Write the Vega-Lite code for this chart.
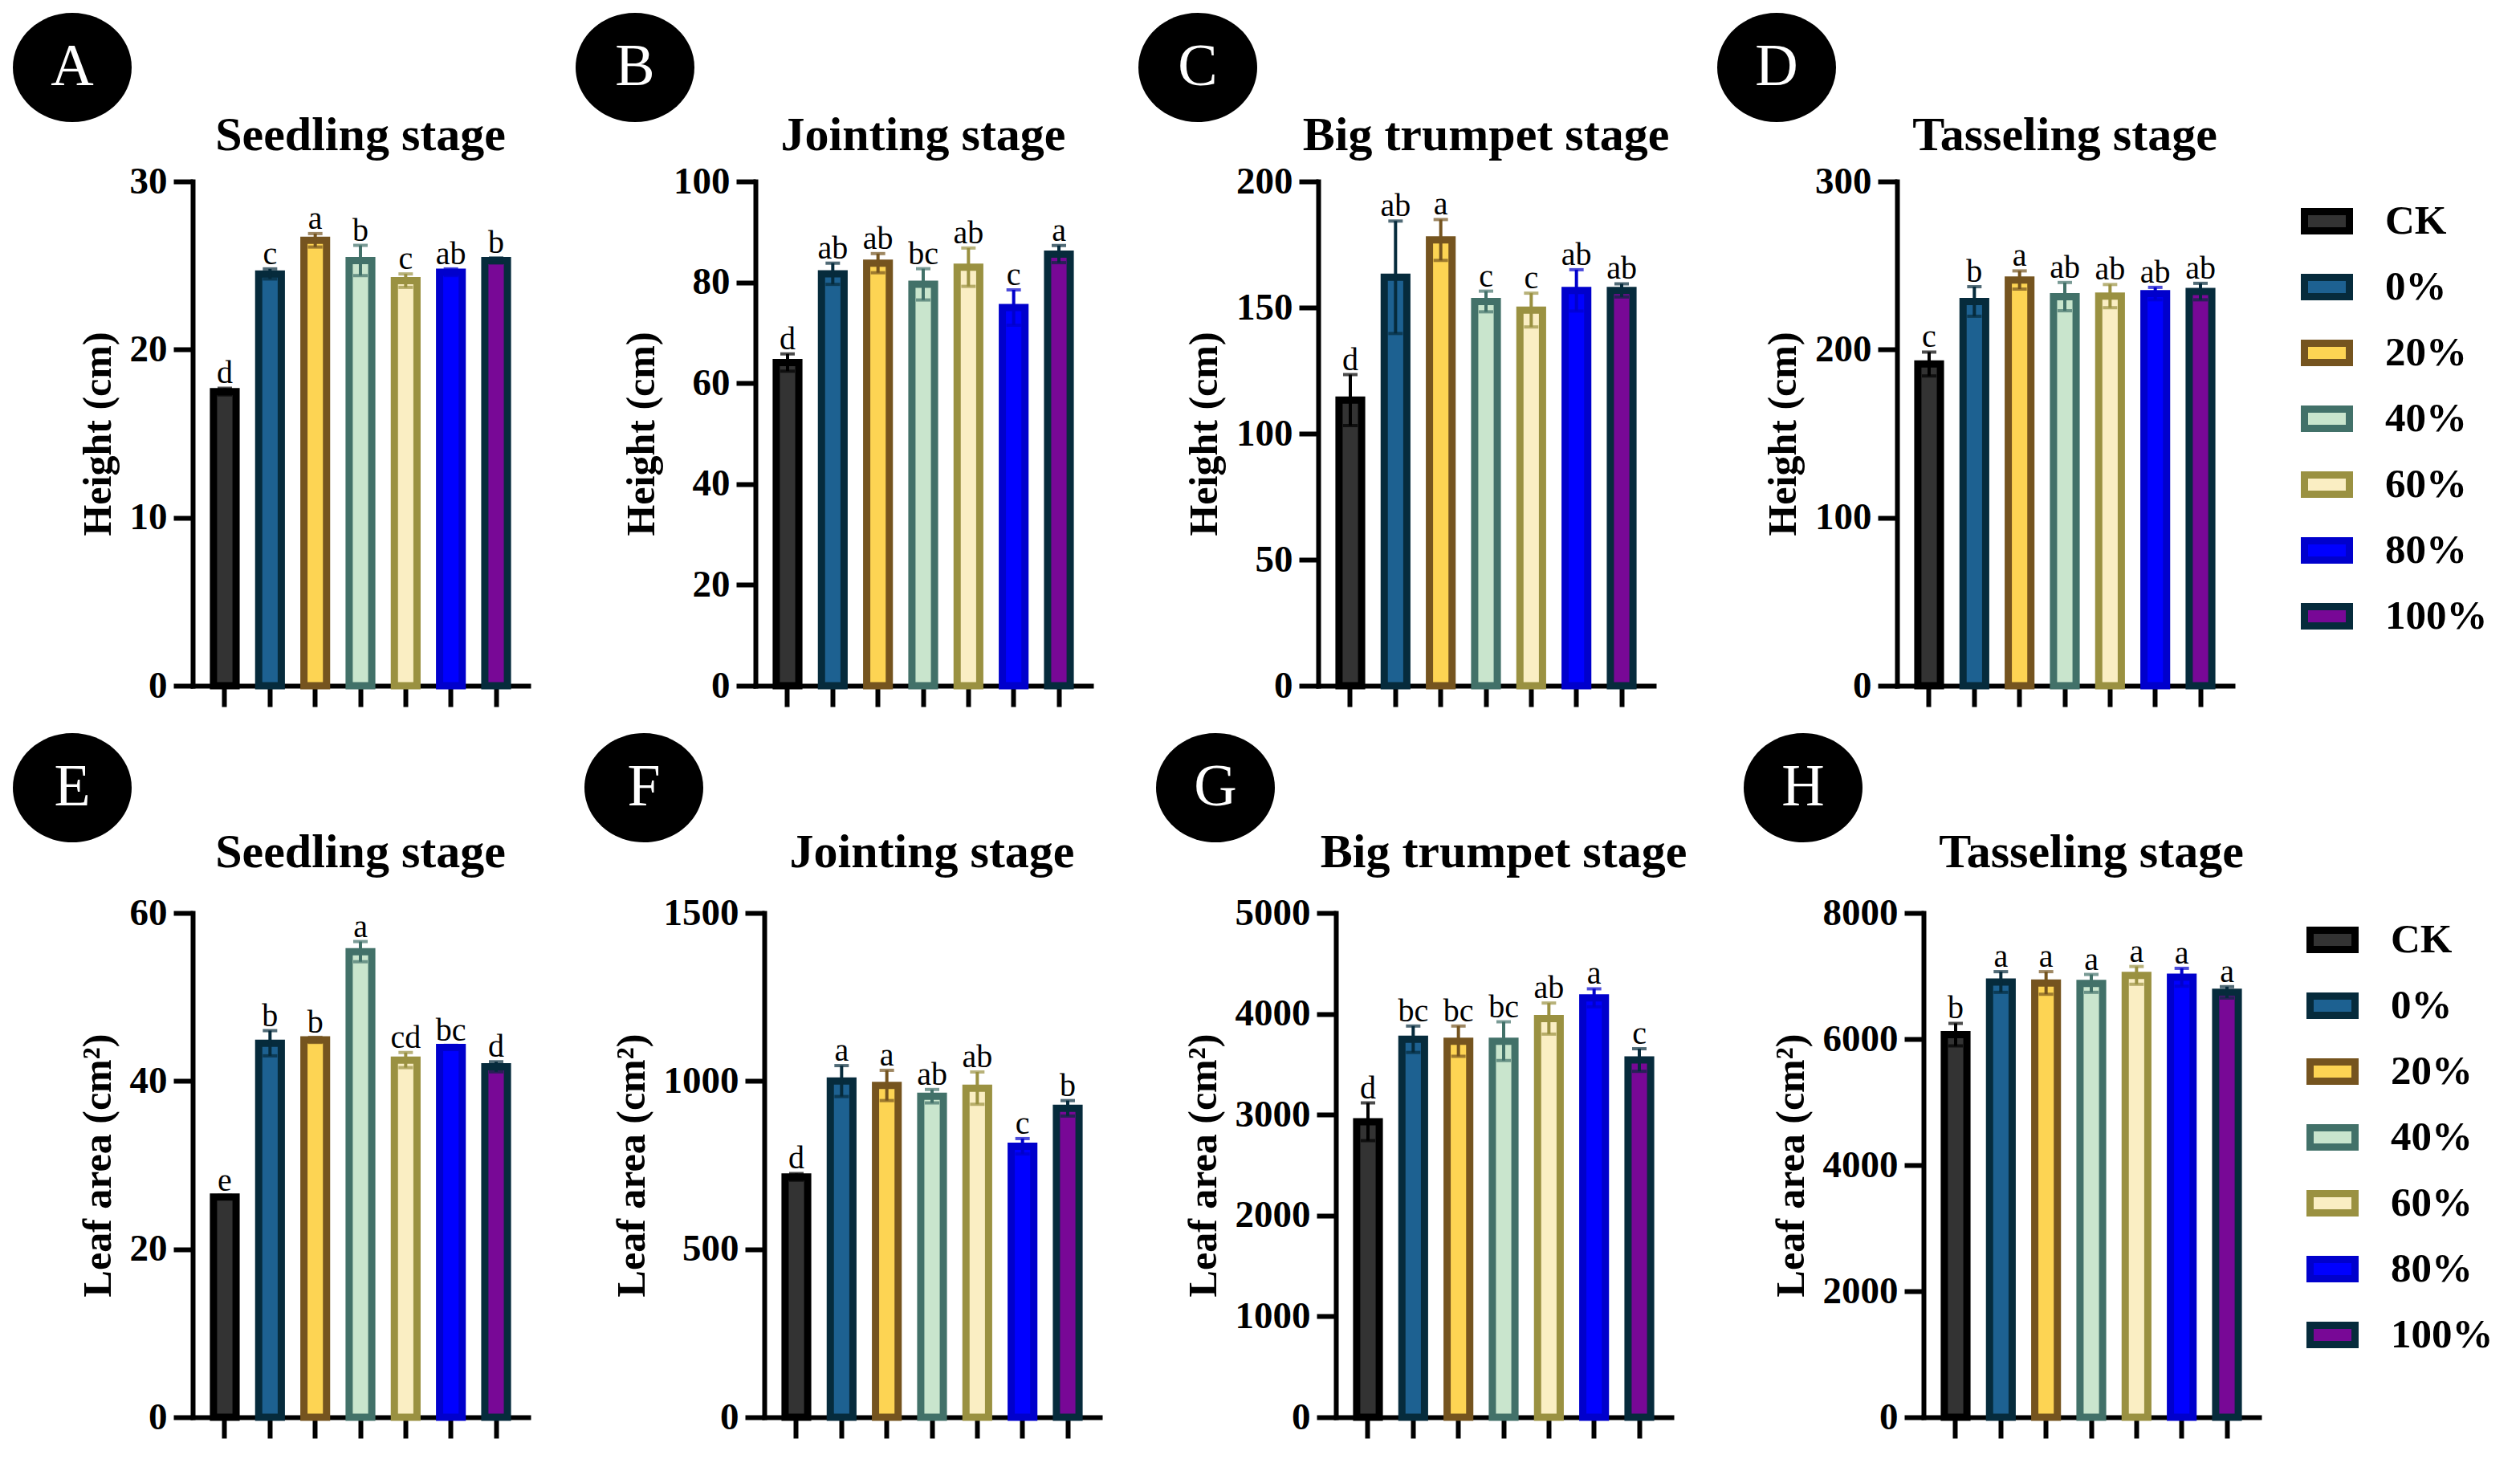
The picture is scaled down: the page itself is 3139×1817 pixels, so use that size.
{
  "$schema": "https://vega.github.io/schema/vega-lite/v6.json",
  "background": "white",
  "padding": {"left": 16, "top": 15, "right": 0, "bottom": 0},
  "datasets": {
    "bars": [
      {"panel": "A", "treatment": "CK", "mean": 17.5, "low": 17.3, "high": 17.7, "sig": "d"},
      {"panel": "A", "treatment": "0%", "mean": 24.5, "low": 24.2, "high": 24.8, "sig": "c"},
      {"panel": "A", "treatment": "20%", "mean": 26.5, "low": 26.1, "high": 26.9, "sig": "a"},
      {"panel": "A", "treatment": "40%", "mean": 25.3, "low": 24.4, "high": 26.2, "sig": "b"},
      {"panel": "A", "treatment": "60%", "mean": 24.1, "low": 23.7, "high": 24.5, "sig": "c"},
      {"panel": "A", "treatment": "80%", "mean": 24.6, "low": 24.4, "high": 24.8, "sig": "ab"},
      {"panel": "A", "treatment": "100%", "mean": 25.3, "low": 25.15, "high": 25.45, "sig": "b"},
      {"panel": "B", "treatment": "CK", "mean": 64.1, "low": 62.4, "high": 65.8, "sig": "d"},
      {"panel": "B", "treatment": "0%", "mean": 81.7, "low": 79.6, "high": 83.8, "sig": "ab"},
      {"panel": "B", "treatment": "20%", "mean": 83.8, "low": 81.9, "high": 85.7, "sig": "ab"},
      {"panel": "B", "treatment": "40%", "mean": 79.6, "low": 76.5, "high": 82.7, "sig": "bc"},
      {"panel": "B", "treatment": "60%", "mean": 83.0, "low": 79.2, "high": 86.8, "sig": "ab"},
      {"panel": "B", "treatment": "80%", "mean": 75.0, "low": 71.5, "high": 78.5, "sig": "c"},
      {"panel": "B", "treatment": "100%", "mean": 85.6, "low": 83.9, "high": 87.3, "sig": "a"},
      {"panel": "C", "treatment": "CK", "mean": 113.3, "low": 103.2, "high": 123.4, "sig": "d"},
      {"panel": "C", "treatment": "0%", "mean": 162, "low": 139.7, "high": 184.3, "sig": "ab"},
      {"panel": "C", "treatment": "20%", "mean": 176.8, "low": 168.7, "high": 184.9, "sig": "a"},
      {"panel": "C", "treatment": "40%", "mean": 152.4, "low": 148.3, "high": 156.5, "sig": "c"},
      {"panel": "C", "treatment": "60%", "mean": 149, "low": 142.3, "high": 155.7, "sig": "c"},
      {"panel": "C", "treatment": "80%", "mean": 156.8, "low": 148.6, "high": 165, "sig": "ab"},
      {"panel": "C", "treatment": "100%", "mean": 156.8, "low": 154.2, "high": 159.4, "sig": "ab"},
      {"panel": "D", "treatment": "CK", "mean": 191.4, "low": 184.3, "high": 198.5, "sig": "c"},
      {"panel": "D", "treatment": "0%", "mean": 228.6, "low": 219.8, "high": 237.4, "sig": "b"},
      {"panel": "D", "treatment": "20%", "mean": 241.4, "low": 236, "high": 246.8, "sig": "a"},
      {"panel": "D", "treatment": "40%", "mean": 231.5, "low": 223.1, "high": 239.9, "sig": "ab"},
      {"panel": "D", "treatment": "60%", "mean": 231.8, "low": 224.9, "high": 238.7, "sig": "ab"},
      {"panel": "D", "treatment": "80%", "mean": 233.3, "low": 229.6, "high": 237, "sig": "ab"},
      {"panel": "D", "treatment": "100%", "mean": 234.5, "low": 229.6, "high": 239.4, "sig": "ab"},
      {"panel": "E", "treatment": "CK", "mean": 26.2, "low": 26.0, "high": 26.4, "sig": "e"},
      {"panel": "E", "treatment": "0%", "mean": 44.5, "low": 43.0, "high": 46.0, "sig": "b"},
      {"panel": "E", "treatment": "20%", "mean": 44.9, "low": 44.6, "high": 45.2, "sig": "b"},
      {"panel": "E", "treatment": "40%", "mean": 55.4, "low": 54.2, "high": 56.6, "sig": "a"},
      {"panel": "E", "treatment": "60%", "mean": 42.5, "low": 41.6, "high": 43.4, "sig": "cd"},
      {"panel": "E", "treatment": "80%", "mean": 44.0, "low": 43.75, "high": 44.25, "sig": "bc"},
      {"panel": "E", "treatment": "100%", "mean": 41.7, "low": 41.1, "high": 42.3, "sig": "d"},
      {"panel": "F", "treatment": "CK", "mean": 715, "low": 705, "high": 725, "sig": "d"},
      {"panel": "F", "treatment": "0%", "mean": 1000, "low": 954, "high": 1046, "sig": "a"},
      {"panel": "F", "treatment": "20%", "mean": 987, "low": 942, "high": 1032, "sig": "a"},
      {"panel": "F", "treatment": "40%", "mean": 955, "low": 935, "high": 975, "sig": "ab"},
      {"panel": "F", "treatment": "60%", "mean": 979, "low": 931, "high": 1027, "sig": "ab"},
      {"panel": "F", "treatment": "80%", "mean": 806, "low": 783, "high": 829, "sig": "c"},
      {"panel": "F", "treatment": "100%", "mean": 919, "low": 896, "high": 942, "sig": "b"},
      {"panel": "G", "treatment": "CK", "mean": 2930, "low": 2743, "high": 3117, "sig": "d"},
      {"panel": "G", "treatment": "0%", "mean": 3748, "low": 3617, "high": 3879, "sig": "bc"},
      {"panel": "G", "treatment": "20%", "mean": 3729, "low": 3579, "high": 3879, "sig": "bc"},
      {"panel": "G", "treatment": "40%", "mean": 3729, "low": 3537, "high": 3921, "sig": "bc"},
      {"panel": "G", "treatment": "60%", "mean": 3953, "low": 3799, "high": 4107, "sig": "ab"},
      {"panel": "G", "treatment": "80%", "mean": 4159, "low": 4070, "high": 4248, "sig": "a"},
      {"panel": "G", "treatment": "100%", "mean": 3542, "low": 3430, "high": 3654, "sig": "c"},
      {"panel": "H", "treatment": "CK", "mean": 6070, "low": 5891, "high": 6249, "sig": "b"},
      {"panel": "H", "treatment": "0%", "mean": 6905, "low": 6741, "high": 7069, "sig": "a"},
      {"panel": "H", "treatment": "20%", "mean": 6890, "low": 6711, "high": 7069, "sig": "a"},
      {"panel": "H", "treatment": "40%", "mean": 6883, "low": 6741, "high": 7025, "sig": "a"},
      {"panel": "H", "treatment": "60%", "mean": 7010, "low": 6869, "high": 7151, "sig": "a"},
      {"panel": "H", "treatment": "80%", "mean": 6980, "low": 6838, "high": 7122, "sig": "a"},
      {"panel": "H", "treatment": "100%", "mean": 6741, "low": 6651, "high": 6831, "sig": "a"}
    ]
  },
  "vconcat": [
    {
      "hconcat": [
        {
          "concat": [
            {
              "width": 148, "height": 136,
              "data": {"values": [{"label": "A"}]},
              "layer": [
                {"mark": {"type": "point", "shape": "M-1,0A1,0.92,0,1,0,1,0A1,0.92,0,1,0,-1,0Z", "size": 21904, "filled": true, "color": "black", "opacity": 1, "xOffset": -224}, "encoding": {}},
                {"mark": {"type": "text", "font": "Liberation Serif", "fontSize": 74, "color": "white", "baseline": "middle", "align": "center", "xOffset": -224}, "encoding": {"text": {"field": "label"}}}
              ]
            },
            {
              "width": 418, "height": 628,
              "title": {"text": "Seedling stage", "offset": 2},
              "data": {"name": "bars"},
              "transform": [{"filter": "datum.panel === 'A'"}],
              "encoding": {"x": {"field": "treatment", "type": "nominal", "sort": null, "scale": {"paddingInner": 0.5, "paddingOuter": 0.46}, "axis": {"title": null, "labels": false}}},
              "layer": [
                {"mark": {"type": "bar", "strokeWidth": 9},
                 "encoding": {
                   "y": {"field": "mean", "type": "quantitative", "title": "Height (cm)", "scale": {"domain": [0, 30], "nice": false}, "axis": {"values": [0, 10, 20, 30]}},
                   "fill": {"field": "treatment", "type": "nominal", "scale": {"domain": ["CK", "0%", "20%", "40%", "60%", "80%", "100%"], "range": ["#333333", "#1d6191", "#fdd453", "#c9e5cd", "#faeec3", "#0000ff", "#780896"]}, "legend": null},
                   "stroke": {"field": "treatment", "type": "nominal", "scale": {"domain": ["CK", "0%", "20%", "40%", "60%", "80%", "100%"], "range": ["#000000", "#062b3c", "#75541f", "#427169", "#9a9141", "#0000cc", "#062b3c"]}, "legend": null}}},
                {"mark": {"type": "rule", "strokeWidth": 4},
                 "encoding": {"y": {"field": "low", "type": "quantitative", "title": "Height (cm)", "scale": {"domain": [0, 30], "nice": false}, "axis": {"values": [0, 10, 20, 30]}}, "y2": {"field": "high"},
                   "color": {"field": "treatment", "type": "nominal", "scale": {"domain": ["CK", "0%", "20%", "40%", "60%", "80%", "100%"], "range": ["#000000", "#062b3c", "#75541f", "#427169", "#9a9141", "#0000cc", "#062b3c"]}, "legend": null}}},
                {"mark": {"type": "tick", "thickness": 4, "size": 18},
                 "encoding": {"y": {"field": "high", "type": "quantitative", "title": "Height (cm)", "scale": {"domain": [0, 30], "nice": false}, "axis": {"values": [0, 10, 20, 30]}},
                   "color": {"field": "treatment", "type": "nominal", "scale": {"domain": ["CK", "0%", "20%", "40%", "60%", "80%", "100%"], "range": ["#000000", "#062b3c", "#75541f", "#427169", "#9a9141", "#0000cc", "#062b3c"]}, "legend": null}}},
                {"mark": {"type": "tick", "thickness": 4, "size": 18},
                 "encoding": {"y": {"field": "low", "type": "quantitative", "title": "Height (cm)", "scale": {"domain": [0, 30], "nice": false}, "axis": {"values": [0, 10, 20, 30]}},
                   "color": {"field": "treatment", "type": "nominal", "scale": {"domain": ["CK", "0%", "20%", "40%", "60%", "80%", "100%"], "range": ["#000000", "#062b3c", "#75541f", "#427169", "#9a9141", "#0000cc", "#062b3c"]}, "legend": null}}},
                {"mark": {"type": "text", "font": "Liberation Serif", "fontSize": 40, "baseline": "alphabetic", "dy": -6, "color": "black"},
                 "encoding": {"y": {"field": "high", "type": "quantitative", "title": "Height (cm)", "scale": {"domain": [0, 30], "nice": false}, "axis": {"values": [0, 10, 20, 30]}}, "text": {"field": "sig"}}}
              ]
            }
          ],
          "columns": 1,
          "spacing": -14,
          "resolve": {"scale": {"fill": "independent", "stroke": "independent", "color": "independent"}}
        },
        {
          "concat": [
            {
              "width": 148, "height": 136,
              "data": {"values": [{"label": "B"}]},
              "layer": [
                {"mark": {"type": "point", "shape": "M-1,0A1,0.92,0,1,0,1,0A1,0.92,0,1,0,-1,0Z", "size": 21904, "filled": true, "color": "black", "opacity": 1, "xOffset": -224}, "encoding": {}},
                {"mark": {"type": "text", "font": "Liberation Serif", "fontSize": 74, "color": "white", "baseline": "middle", "align": "center", "xOffset": -224}, "encoding": {"text": {"field": "label"}}}
              ]
            },
            {
              "width": 418, "height": 628,
              "title": {"text": "Jointing stage", "offset": 2},
              "data": {"name": "bars"},
              "transform": [{"filter": "datum.panel === 'B'"}],
              "encoding": {"x": {"field": "treatment", "type": "nominal", "sort": null, "scale": {"paddingInner": 0.5, "paddingOuter": 0.46}, "axis": {"title": null, "labels": false}}},
              "layer": [
                {"mark": {"type": "bar", "strokeWidth": 9},
                 "encoding": {
                   "y": {"field": "mean", "type": "quantitative", "title": "Height (cm)", "scale": {"domain": [0, 100], "nice": false}, "axis": {"values": [0, 20, 40, 60, 80, 100]}},
                   "fill": {"field": "treatment", "type": "nominal", "scale": {"domain": ["CK", "0%", "20%", "40%", "60%", "80%", "100%"], "range": ["#333333", "#1d6191", "#fdd453", "#c9e5cd", "#faeec3", "#0000ff", "#780896"]}, "legend": null},
                   "stroke": {"field": "treatment", "type": "nominal", "scale": {"domain": ["CK", "0%", "20%", "40%", "60%", "80%", "100%"], "range": ["#000000", "#062b3c", "#75541f", "#427169", "#9a9141", "#0000cc", "#062b3c"]}, "legend": null}}},
                {"mark": {"type": "rule", "strokeWidth": 4},
                 "encoding": {"y": {"field": "low", "type": "quantitative", "title": "Height (cm)", "scale": {"domain": [0, 100], "nice": false}, "axis": {"values": [0, 20, 40, 60, 80, 100]}}, "y2": {"field": "high"},
                   "color": {"field": "treatment", "type": "nominal", "scale": {"domain": ["CK", "0%", "20%", "40%", "60%", "80%", "100%"], "range": ["#000000", "#062b3c", "#75541f", "#427169", "#9a9141", "#0000cc", "#062b3c"]}, "legend": null}}},
                {"mark": {"type": "tick", "thickness": 4, "size": 18},
                 "encoding": {"y": {"field": "high", "type": "quantitative", "title": "Height (cm)", "scale": {"domain": [0, 100], "nice": false}, "axis": {"values": [0, 20, 40, 60, 80, 100]}},
                   "color": {"field": "treatment", "type": "nominal", "scale": {"domain": ["CK", "0%", "20%", "40%", "60%", "80%", "100%"], "range": ["#000000", "#062b3c", "#75541f", "#427169", "#9a9141", "#0000cc", "#062b3c"]}, "legend": null}}},
                {"mark": {"type": "tick", "thickness": 4, "size": 18},
                 "encoding": {"y": {"field": "low", "type": "quantitative", "title": "Height (cm)", "scale": {"domain": [0, 100], "nice": false}, "axis": {"values": [0, 20, 40, 60, 80, 100]}},
                   "color": {"field": "treatment", "type": "nominal", "scale": {"domain": ["CK", "0%", "20%", "40%", "60%", "80%", "100%"], "range": ["#000000", "#062b3c", "#75541f", "#427169", "#9a9141", "#0000cc", "#062b3c"]}, "legend": null}}},
                {"mark": {"type": "text", "font": "Liberation Serif", "fontSize": 40, "baseline": "alphabetic", "dy": -6, "color": "black"},
                 "encoding": {"y": {"field": "high", "type": "quantitative", "title": "Height (cm)", "scale": {"domain": [0, 100], "nice": false}, "axis": {"values": [0, 20, 40, 60, 80, 100]}}, "text": {"field": "sig"}}}
              ]
            }
          ],
          "columns": 1,
          "spacing": -14,
          "resolve": {"scale": {"fill": "independent", "stroke": "independent", "color": "independent"}}
        },
        {
          "concat": [
            {
              "width": 148, "height": 136,
              "data": {"values": [{"label": "C"}]},
              "layer": [
                {"mark": {"type": "point", "shape": "M-1,0A1,0.92,0,1,0,1,0A1,0.92,0,1,0,-1,0Z", "size": 21904, "filled": true, "color": "black", "opacity": 1, "xOffset": -224}, "encoding": {}},
                {"mark": {"type": "text", "font": "Liberation Serif", "fontSize": 74, "color": "white", "baseline": "middle", "align": "center", "xOffset": -224}, "encoding": {"text": {"field": "label"}}}
              ]
            },
            {
              "width": 418, "height": 628,
              "title": {"text": "Big trumpet stage", "offset": 2},
              "data": {"name": "bars"},
              "transform": [{"filter": "datum.panel === 'C'"}],
              "encoding": {"x": {"field": "treatment", "type": "nominal", "sort": null, "scale": {"paddingInner": 0.5, "paddingOuter": 0.46}, "axis": {"title": null, "labels": false}}},
              "layer": [
                {"mark": {"type": "bar", "strokeWidth": 9},
                 "encoding": {
                   "y": {"field": "mean", "type": "quantitative", "title": "Height (cm)", "scale": {"domain": [0, 200], "nice": false}, "axis": {"values": [0, 50, 100, 150, 200]}},
                   "fill": {"field": "treatment", "type": "nominal", "scale": {"domain": ["CK", "0%", "20%", "40%", "60%", "80%", "100%"], "range": ["#333333", "#1d6191", "#fdd453", "#c9e5cd", "#faeec3", "#0000ff", "#780896"]}, "legend": null},
                   "stroke": {"field": "treatment", "type": "nominal", "scale": {"domain": ["CK", "0%", "20%", "40%", "60%", "80%", "100%"], "range": ["#000000", "#062b3c", "#75541f", "#427169", "#9a9141", "#0000cc", "#062b3c"]}, "legend": null}}},
                {"mark": {"type": "rule", "strokeWidth": 4},
                 "encoding": {"y": {"field": "low", "type": "quantitative", "title": "Height (cm)", "scale": {"domain": [0, 200], "nice": false}, "axis": {"values": [0, 50, 100, 150, 200]}}, "y2": {"field": "high"},
                   "color": {"field": "treatment", "type": "nominal", "scale": {"domain": ["CK", "0%", "20%", "40%", "60%", "80%", "100%"], "range": ["#000000", "#062b3c", "#75541f", "#427169", "#9a9141", "#0000cc", "#062b3c"]}, "legend": null}}},
                {"mark": {"type": "tick", "thickness": 4, "size": 18},
                 "encoding": {"y": {"field": "high", "type": "quantitative", "title": "Height (cm)", "scale": {"domain": [0, 200], "nice": false}, "axis": {"values": [0, 50, 100, 150, 200]}},
                   "color": {"field": "treatment", "type": "nominal", "scale": {"domain": ["CK", "0%", "20%", "40%", "60%", "80%", "100%"], "range": ["#000000", "#062b3c", "#75541f", "#427169", "#9a9141", "#0000cc", "#062b3c"]}, "legend": null}}},
                {"mark": {"type": "tick", "thickness": 4, "size": 18},
                 "encoding": {"y": {"field": "low", "type": "quantitative", "title": "Height (cm)", "scale": {"domain": [0, 200], "nice": false}, "axis": {"values": [0, 50, 100, 150, 200]}},
                   "color": {"field": "treatment", "type": "nominal", "scale": {"domain": ["CK", "0%", "20%", "40%", "60%", "80%", "100%"], "range": ["#000000", "#062b3c", "#75541f", "#427169", "#9a9141", "#0000cc", "#062b3c"]}, "legend": null}}},
                {"mark": {"type": "text", "font": "Liberation Serif", "fontSize": 40, "baseline": "alphabetic", "dy": -6, "color": "black"},
                 "encoding": {"y": {"field": "high", "type": "quantitative", "title": "Height (cm)", "scale": {"domain": [0, 200], "nice": false}, "axis": {"values": [0, 50, 100, 150, 200]}}, "text": {"field": "sig"}}}
              ]
            }
          ],
          "columns": 1,
          "spacing": -14,
          "resolve": {"scale": {"fill": "independent", "stroke": "independent", "color": "independent"}}
        },
        {
          "concat": [
            {
              "width": 148, "height": 136,
              "data": {"values": [{"label": "D"}]},
              "layer": [
                {"mark": {"type": "point", "shape": "M-1,0A1,0.92,0,1,0,1,0A1,0.92,0,1,0,-1,0Z", "size": 21904, "filled": true, "color": "black", "opacity": 1, "xOffset": -224}, "encoding": {}},
                {"mark": {"type": "text", "font": "Liberation Serif", "fontSize": 74, "color": "white", "baseline": "middle", "align": "center", "xOffset": -224}, "encoding": {"text": {"field": "label"}}}
              ]
            },
            {
              "width": 418, "height": 628,
              "title": {"text": "Tasseling stage", "offset": 2},
              "data": {"name": "bars"},
              "transform": [{"filter": "datum.panel === 'D'"}],
              "encoding": {"x": {"field": "treatment", "type": "nominal", "sort": null, "scale": {"paddingInner": 0.5, "paddingOuter": 0.46}, "axis": {"title": null, "labels": false}}},
              "layer": [
                {"mark": {"type": "bar", "strokeWidth": 9},
                 "encoding": {
                   "y": {"field": "mean", "type": "quantitative", "title": "Height (cm)", "scale": {"domain": [0, 300], "nice": false}, "axis": {"values": [0, 100, 200, 300]}},
                   "fill": {"field": "treatment", "type": "nominal", "scale": {"domain": ["CK", "0%", "20%", "40%", "60%", "80%", "100%"], "range": ["#333333", "#1d6191", "#fdd453", "#c9e5cd", "#faeec3", "#0000ff", "#780896"]}, "legend": {"title": null, "offset": 68, "padding": 17}},
                   "stroke": {"field": "treatment", "type": "nominal", "scale": {"domain": ["CK", "0%", "20%", "40%", "60%", "80%", "100%"], "range": ["#000000", "#062b3c", "#75541f", "#427169", "#9a9141", "#0000cc", "#062b3c"]}, "legend": {"title": null, "offset": 68, "padding": 17}}}},
                {"mark": {"type": "rule", "strokeWidth": 4},
                 "encoding": {"y": {"field": "low", "type": "quantitative", "title": "Height (cm)", "scale": {"domain": [0, 300], "nice": false}, "axis": {"values": [0, 100, 200, 300]}}, "y2": {"field": "high"},
                   "color": {"field": "treatment", "type": "nominal", "scale": {"domain": ["CK", "0%", "20%", "40%", "60%", "80%", "100%"], "range": ["#000000", "#062b3c", "#75541f", "#427169", "#9a9141", "#0000cc", "#062b3c"]}, "legend": null}}},
                {"mark": {"type": "tick", "thickness": 4, "size": 18},
                 "encoding": {"y": {"field": "high", "type": "quantitative", "title": "Height (cm)", "scale": {"domain": [0, 300], "nice": false}, "axis": {"values": [0, 100, 200, 300]}},
                   "color": {"field": "treatment", "type": "nominal", "scale": {"domain": ["CK", "0%", "20%", "40%", "60%", "80%", "100%"], "range": ["#000000", "#062b3c", "#75541f", "#427169", "#9a9141", "#0000cc", "#062b3c"]}, "legend": null}}},
                {"mark": {"type": "tick", "thickness": 4, "size": 18},
                 "encoding": {"y": {"field": "low", "type": "quantitative", "title": "Height (cm)", "scale": {"domain": [0, 300], "nice": false}, "axis": {"values": [0, 100, 200, 300]}},
                   "color": {"field": "treatment", "type": "nominal", "scale": {"domain": ["CK", "0%", "20%", "40%", "60%", "80%", "100%"], "range": ["#000000", "#062b3c", "#75541f", "#427169", "#9a9141", "#0000cc", "#062b3c"]}, "legend": null}}},
                {"mark": {"type": "text", "font": "Liberation Serif", "fontSize": 40, "baseline": "alphabetic", "dy": -6, "color": "black"},
                 "encoding": {"y": {"field": "high", "type": "quantitative", "title": "Height (cm)", "scale": {"domain": [0, 300], "nice": false}, "axis": {"values": [0, 100, 200, 300]}}, "text": {"field": "sig"}}}
              ]
            }
          ],
          "columns": 1,
          "spacing": -14,
          "resolve": {"scale": {"fill": "independent", "stroke": "independent", "color": "independent"}}
        }
      ],
      "spacing": 59,
      "resolve": {"scale": {"fill": "independent", "stroke": "independent", "color": "independent"}}
    },
    {
      "hconcat": [
        {
          "concat": [
            {
              "width": 148, "height": 136,
              "data": {"values": [{"label": "E"}]},
              "layer": [
                {"mark": {"type": "point", "shape": "M-1,0A1,0.92,0,1,0,1,0A1,0.92,0,1,0,-1,0Z", "size": 21904, "filled": true, "color": "black", "opacity": 1, "xOffset": -224}, "encoding": {}},
                {"mark": {"type": "text", "font": "Liberation Serif", "fontSize": 74, "color": "white", "baseline": "middle", "align": "center", "xOffset": -224}, "encoding": {"text": {"field": "label"}}}
              ]
            },
            {
              "width": 418, "height": 628,
              "title": {"text": "Seedling stage", "offset": 20},
              "data": {"name": "bars"},
              "transform": [{"filter": "datum.panel === 'E'"}],
              "encoding": {"x": {"field": "treatment", "type": "nominal", "sort": null, "scale": {"paddingInner": 0.5, "paddingOuter": 0.46}, "axis": {"title": null, "labels": false}}},
              "layer": [
                {"mark": {"type": "bar", "strokeWidth": 9},
                 "encoding": {
                   "y": {"field": "mean", "type": "quantitative", "title": "Leaf area (cm²)", "scale": {"domain": [0, 60], "nice": false}, "axis": {"values": [0, 20, 40, 60]}},
                   "fill": {"field": "treatment", "type": "nominal", "scale": {"domain": ["CK", "0%", "20%", "40%", "60%", "80%", "100%"], "range": ["#333333", "#1d6191", "#fdd453", "#c9e5cd", "#faeec3", "#0000ff", "#780896"]}, "legend": null},
                   "stroke": {"field": "treatment", "type": "nominal", "scale": {"domain": ["CK", "0%", "20%", "40%", "60%", "80%", "100%"], "range": ["#000000", "#062b3c", "#75541f", "#427169", "#9a9141", "#0000cc", "#062b3c"]}, "legend": null}}},
                {"mark": {"type": "rule", "strokeWidth": 4},
                 "encoding": {"y": {"field": "low", "type": "quantitative", "title": "Leaf area (cm²)", "scale": {"domain": [0, 60], "nice": false}, "axis": {"values": [0, 20, 40, 60]}}, "y2": {"field": "high"},
                   "color": {"field": "treatment", "type": "nominal", "scale": {"domain": ["CK", "0%", "20%", "40%", "60%", "80%", "100%"], "range": ["#000000", "#062b3c", "#75541f", "#427169", "#9a9141", "#0000cc", "#062b3c"]}, "legend": null}}},
                {"mark": {"type": "tick", "thickness": 4, "size": 18},
                 "encoding": {"y": {"field": "high", "type": "quantitative", "title": "Leaf area (cm²)", "scale": {"domain": [0, 60], "nice": false}, "axis": {"values": [0, 20, 40, 60]}},
                   "color": {"field": "treatment", "type": "nominal", "scale": {"domain": ["CK", "0%", "20%", "40%", "60%", "80%", "100%"], "range": ["#000000", "#062b3c", "#75541f", "#427169", "#9a9141", "#0000cc", "#062b3c"]}, "legend": null}}},
                {"mark": {"type": "tick", "thickness": 4, "size": 18},
                 "encoding": {"y": {"field": "low", "type": "quantitative", "title": "Leaf area (cm²)", "scale": {"domain": [0, 60], "nice": false}, "axis": {"values": [0, 20, 40, 60]}},
                   "color": {"field": "treatment", "type": "nominal", "scale": {"domain": ["CK", "0%", "20%", "40%", "60%", "80%", "100%"], "range": ["#000000", "#062b3c", "#75541f", "#427169", "#9a9141", "#0000cc", "#062b3c"]}, "legend": null}}},
                {"mark": {"type": "text", "font": "Liberation Serif", "fontSize": 40, "baseline": "alphabetic", "dy": -6, "color": "black"},
                 "encoding": {"y": {"field": "high", "type": "quantitative", "title": "Leaf area (cm²)", "scale": {"domain": [0, 60], "nice": false}, "axis": {"values": [0, 20, 40, 60]}}, "text": {"field": "sig"}}}
              ]
            }
          ],
          "columns": 1,
          "spacing": -18,
          "resolve": {"scale": {"fill": "independent", "stroke": "independent", "color": "independent"}}
        },
        {
          "concat": [
            {
              "width": 148, "height": 136,
              "data": {"values": [{"label": "F"}]},
              "layer": [
                {"mark": {"type": "point", "shape": "M-1,0A1,0.92,0,1,0,1,0A1,0.92,0,1,0,-1,0Z", "size": 21904, "filled": true, "color": "black", "opacity": 1, "xOffset": -224}, "encoding": {}},
                {"mark": {"type": "text", "font": "Liberation Serif", "fontSize": 74, "color": "white", "baseline": "middle", "align": "center", "xOffset": -224}, "encoding": {"text": {"field": "label"}}}
              ]
            },
            {
              "width": 418, "height": 628,
              "title": {"text": "Jointing stage", "offset": 20},
              "data": {"name": "bars"},
              "transform": [{"filter": "datum.panel === 'F'"}],
              "encoding": {"x": {"field": "treatment", "type": "nominal", "sort": null, "scale": {"paddingInner": 0.5, "paddingOuter": 0.46}, "axis": {"title": null, "labels": false}}},
              "layer": [
                {"mark": {"type": "bar", "strokeWidth": 9},
                 "encoding": {
                   "y": {"field": "mean", "type": "quantitative", "title": "Leaf area (cm²)", "scale": {"domain": [0, 1500], "nice": false}, "axis": {"values": [0, 500, 1000, 1500]}},
                   "fill": {"field": "treatment", "type": "nominal", "scale": {"domain": ["CK", "0%", "20%", "40%", "60%", "80%", "100%"], "range": ["#333333", "#1d6191", "#fdd453", "#c9e5cd", "#faeec3", "#0000ff", "#780896"]}, "legend": null},
                   "stroke": {"field": "treatment", "type": "nominal", "scale": {"domain": ["CK", "0%", "20%", "40%", "60%", "80%", "100%"], "range": ["#000000", "#062b3c", "#75541f", "#427169", "#9a9141", "#0000cc", "#062b3c"]}, "legend": null}}},
                {"mark": {"type": "rule", "strokeWidth": 4},
                 "encoding": {"y": {"field": "low", "type": "quantitative", "title": "Leaf area (cm²)", "scale": {"domain": [0, 1500], "nice": false}, "axis": {"values": [0, 500, 1000, 1500]}}, "y2": {"field": "high"},
                   "color": {"field": "treatment", "type": "nominal", "scale": {"domain": ["CK", "0%", "20%", "40%", "60%", "80%", "100%"], "range": ["#000000", "#062b3c", "#75541f", "#427169", "#9a9141", "#0000cc", "#062b3c"]}, "legend": null}}},
                {"mark": {"type": "tick", "thickness": 4, "size": 18},
                 "encoding": {"y": {"field": "high", "type": "quantitative", "title": "Leaf area (cm²)", "scale": {"domain": [0, 1500], "nice": false}, "axis": {"values": [0, 500, 1000, 1500]}},
                   "color": {"field": "treatment", "type": "nominal", "scale": {"domain": ["CK", "0%", "20%", "40%", "60%", "80%", "100%"], "range": ["#000000", "#062b3c", "#75541f", "#427169", "#9a9141", "#0000cc", "#062b3c"]}, "legend": null}}},
                {"mark": {"type": "tick", "thickness": 4, "size": 18},
                 "encoding": {"y": {"field": "low", "type": "quantitative", "title": "Leaf area (cm²)", "scale": {"domain": [0, 1500], "nice": false}, "axis": {"values": [0, 500, 1000, 1500]}},
                   "color": {"field": "treatment", "type": "nominal", "scale": {"domain": ["CK", "0%", "20%", "40%", "60%", "80%", "100%"], "range": ["#000000", "#062b3c", "#75541f", "#427169", "#9a9141", "#0000cc", "#062b3c"]}, "legend": null}}},
                {"mark": {"type": "text", "font": "Liberation Serif", "fontSize": 40, "baseline": "alphabetic", "dy": -6, "color": "black"},
                 "encoding": {"y": {"field": "high", "type": "quantitative", "title": "Leaf area (cm²)", "scale": {"domain": [0, 1500], "nice": false}, "axis": {"values": [0, 500, 1000, 1500]}}, "text": {"field": "sig"}}}
              ]
            }
          ],
          "columns": 1,
          "spacing": -18,
          "resolve": {"scale": {"fill": "independent", "stroke": "independent", "color": "independent"}}
        },
        {
          "concat": [
            {
              "width": 148, "height": 136,
              "data": {"values": [{"label": "G"}]},
              "layer": [
                {"mark": {"type": "point", "shape": "M-1,0A1,0.92,0,1,0,1,0A1,0.92,0,1,0,-1,0Z", "size": 21904, "filled": true, "color": "black", "opacity": 1, "xOffset": -224}, "encoding": {}},
                {"mark": {"type": "text", "font": "Liberation Serif", "fontSize": 74, "color": "white", "baseline": "middle", "align": "center", "xOffset": -224}, "encoding": {"text": {"field": "label"}}}
              ]
            },
            {
              "width": 418, "height": 628,
              "title": {"text": "Big trumpet stage", "offset": 20},
              "data": {"name": "bars"},
              "transform": [{"filter": "datum.panel === 'G'"}],
              "encoding": {"x": {"field": "treatment", "type": "nominal", "sort": null, "scale": {"paddingInner": 0.5, "paddingOuter": 0.46}, "axis": {"title": null, "labels": false}}},
              "layer": [
                {"mark": {"type": "bar", "strokeWidth": 9},
                 "encoding": {
                   "y": {"field": "mean", "type": "quantitative", "title": "Leaf area (cm²)", "scale": {"domain": [0, 5000], "nice": false}, "axis": {"values": [0, 1000, 2000, 3000, 4000, 5000]}},
                   "fill": {"field": "treatment", "type": "nominal", "scale": {"domain": ["CK", "0%", "20%", "40%", "60%", "80%", "100%"], "range": ["#333333", "#1d6191", "#fdd453", "#c9e5cd", "#faeec3", "#0000ff", "#780896"]}, "legend": null},
                   "stroke": {"field": "treatment", "type": "nominal", "scale": {"domain": ["CK", "0%", "20%", "40%", "60%", "80%", "100%"], "range": ["#000000", "#062b3c", "#75541f", "#427169", "#9a9141", "#0000cc", "#062b3c"]}, "legend": null}}},
                {"mark": {"type": "rule", "strokeWidth": 4},
                 "encoding": {"y": {"field": "low", "type": "quantitative", "title": "Leaf area (cm²)", "scale": {"domain": [0, 5000], "nice": false}, "axis": {"values": [0, 1000, 2000, 3000, 4000, 5000]}}, "y2": {"field": "high"},
                   "color": {"field": "treatment", "type": "nominal", "scale": {"domain": ["CK", "0%", "20%", "40%", "60%", "80%", "100%"], "range": ["#000000", "#062b3c", "#75541f", "#427169", "#9a9141", "#0000cc", "#062b3c"]}, "legend": null}}},
                {"mark": {"type": "tick", "thickness": 4, "size": 18},
                 "encoding": {"y": {"field": "high", "type": "quantitative", "title": "Leaf area (cm²)", "scale": {"domain": [0, 5000], "nice": false}, "axis": {"values": [0, 1000, 2000, 3000, 4000, 5000]}},
                   "color": {"field": "treatment", "type": "nominal", "scale": {"domain": ["CK", "0%", "20%", "40%", "60%", "80%", "100%"], "range": ["#000000", "#062b3c", "#75541f", "#427169", "#9a9141", "#0000cc", "#062b3c"]}, "legend": null}}},
                {"mark": {"type": "tick", "thickness": 4, "size": 18},
                 "encoding": {"y": {"field": "low", "type": "quantitative", "title": "Leaf area (cm²)", "scale": {"domain": [0, 5000], "nice": false}, "axis": {"values": [0, 1000, 2000, 3000, 4000, 5000]}},
                   "color": {"field": "treatment", "type": "nominal", "scale": {"domain": ["CK", "0%", "20%", "40%", "60%", "80%", "100%"], "range": ["#000000", "#062b3c", "#75541f", "#427169", "#9a9141", "#0000cc", "#062b3c"]}, "legend": null}}},
                {"mark": {"type": "text", "font": "Liberation Serif", "fontSize": 40, "baseline": "alphabetic", "dy": -6, "color": "black"},
                 "encoding": {"y": {"field": "high", "type": "quantitative", "title": "Leaf area (cm²)", "scale": {"domain": [0, 5000], "nice": false}, "axis": {"values": [0, 1000, 2000, 3000, 4000, 5000]}}, "text": {"field": "sig"}}}
              ]
            }
          ],
          "columns": 1,
          "spacing": -18,
          "resolve": {"scale": {"fill": "independent", "stroke": "independent", "color": "independent"}}
        },
        {
          "concat": [
            {
              "width": 148, "height": 136,
              "data": {"values": [{"label": "H"}]},
              "layer": [
                {"mark": {"type": "point", "shape": "M-1,0A1,0.92,0,1,0,1,0A1,0.92,0,1,0,-1,0Z", "size": 21904, "filled": true, "color": "black", "opacity": 1, "xOffset": -224}, "encoding": {}},
                {"mark": {"type": "text", "font": "Liberation Serif", "fontSize": 74, "color": "white", "baseline": "middle", "align": "center", "xOffset": -224}, "encoding": {"text": {"field": "label"}}}
              ]
            },
            {
              "width": 418, "height": 628,
              "title": {"text": "Tasseling stage", "offset": 20},
              "data": {"name": "bars"},
              "transform": [{"filter": "datum.panel === 'H'"}],
              "encoding": {"x": {"field": "treatment", "type": "nominal", "sort": null, "scale": {"paddingInner": 0.5, "paddingOuter": 0.46}, "axis": {"title": null, "labels": false}}},
              "layer": [
                {"mark": {"type": "bar", "strokeWidth": 9},
                 "encoding": {
                   "y": {"field": "mean", "type": "quantitative", "title": "Leaf area (cm²)", "scale": {"domain": [0, 8000], "nice": false}, "axis": {"values": [0, 2000, 4000, 6000, 8000]}},
                   "fill": {"field": "treatment", "type": "nominal", "scale": {"domain": ["CK", "0%", "20%", "40%", "60%", "80%", "100%"], "range": ["#333333", "#1d6191", "#fdd453", "#c9e5cd", "#faeec3", "#0000ff", "#780896"]}, "legend": {"title": null, "offset": 58, "padding": 1}},
                   "stroke": {"field": "treatment", "type": "nominal", "scale": {"domain": ["CK", "0%", "20%", "40%", "60%", "80%", "100%"], "range": ["#000000", "#062b3c", "#75541f", "#427169", "#9a9141", "#0000cc", "#062b3c"]}, "legend": {"title": null, "offset": 58, "padding": 1}}}},
                {"mark": {"type": "rule", "strokeWidth": 4},
                 "encoding": {"y": {"field": "low", "type": "quantitative", "title": "Leaf area (cm²)", "scale": {"domain": [0, 8000], "nice": false}, "axis": {"values": [0, 2000, 4000, 6000, 8000]}}, "y2": {"field": "high"},
                   "color": {"field": "treatment", "type": "nominal", "scale": {"domain": ["CK", "0%", "20%", "40%", "60%", "80%", "100%"], "range": ["#000000", "#062b3c", "#75541f", "#427169", "#9a9141", "#0000cc", "#062b3c"]}, "legend": null}}},
                {"mark": {"type": "tick", "thickness": 4, "size": 18},
                 "encoding": {"y": {"field": "high", "type": "quantitative", "title": "Leaf area (cm²)", "scale": {"domain": [0, 8000], "nice": false}, "axis": {"values": [0, 2000, 4000, 6000, 8000]}},
                   "color": {"field": "treatment", "type": "nominal", "scale": {"domain": ["CK", "0%", "20%", "40%", "60%", "80%", "100%"], "range": ["#000000", "#062b3c", "#75541f", "#427169", "#9a9141", "#0000cc", "#062b3c"]}, "legend": null}}},
                {"mark": {"type": "tick", "thickness": 4, "size": 18},
                 "encoding": {"y": {"field": "low", "type": "quantitative", "title": "Leaf area (cm²)", "scale": {"domain": [0, 8000], "nice": false}, "axis": {"values": [0, 2000, 4000, 6000, 8000]}},
                   "color": {"field": "treatment", "type": "nominal", "scale": {"domain": ["CK", "0%", "20%", "40%", "60%", "80%", "100%"], "range": ["#000000", "#062b3c", "#75541f", "#427169", "#9a9141", "#0000cc", "#062b3c"]}, "legend": null}}},
                {"mark": {"type": "text", "font": "Liberation Serif", "fontSize": 40, "baseline": "alphabetic", "dy": -6, "color": "black"},
                 "encoding": {"y": {"field": "high", "type": "quantitative", "title": "Leaf area (cm²)", "scale": {"domain": [0, 8000], "nice": false}, "axis": {"values": [0, 2000, 4000, 6000, 8000]}}, "text": {"field": "sig"}}}
              ]
            }
          ],
          "columns": 1,
          "spacing": -18,
          "resolve": {"scale": {"fill": "independent", "stroke": "independent", "color": "independent"}}
        }
      ],
      "spacing": 70,
      "resolve": {"scale": {"fill": "independent", "stroke": "independent", "color": "independent"}}
    }
  ],
  "spacing": 29,
  "resolve": {"scale": {"fill": "independent", "stroke": "independent", "color": "independent"}},
  "config": {
    "numberFormat": "d",
    "view": {"stroke": null},
    "title": {"font": "Liberation Serif", "fontSize": 60, "fontWeight": "bold", "color": "black", "anchor": "middle", "frame": "group"},
    "axis": {
      "domainColor": "black", "domainWidth": 6, "domainCap": "square",
      "tickColor": "black", "tickWidth": 6, "grid": false,
      "labelFont": "Liberation Serif", "labelFontSize": 47, "labelFontWeight": "bold", "labelColor": "black", "labelPadding": 8,
      "titleFont": "Liberation Serif", "titleFontSize": 50, "titleFontWeight": "bold", "titleColor": "black", "titlePadding": 14
    },
    "axisX": {"tickSize": 26},
    "axisY": {"tickSize": 24},
    "legend": {
      "orient": "right",
      "symbolType": "M-1,-0.43H1V0.43H-1Z",
      "symbolSize": 3136,
      "symbolStrokeWidth": 9,
      "symbolOpacity": 1,
      "labelFont": "Liberation Serif", "labelFontSize": 51, "labelFontWeight": "bold", "labelColor": "black",
      "labelOffset": 40,
      "rowPadding": 19
    }
  }
}
